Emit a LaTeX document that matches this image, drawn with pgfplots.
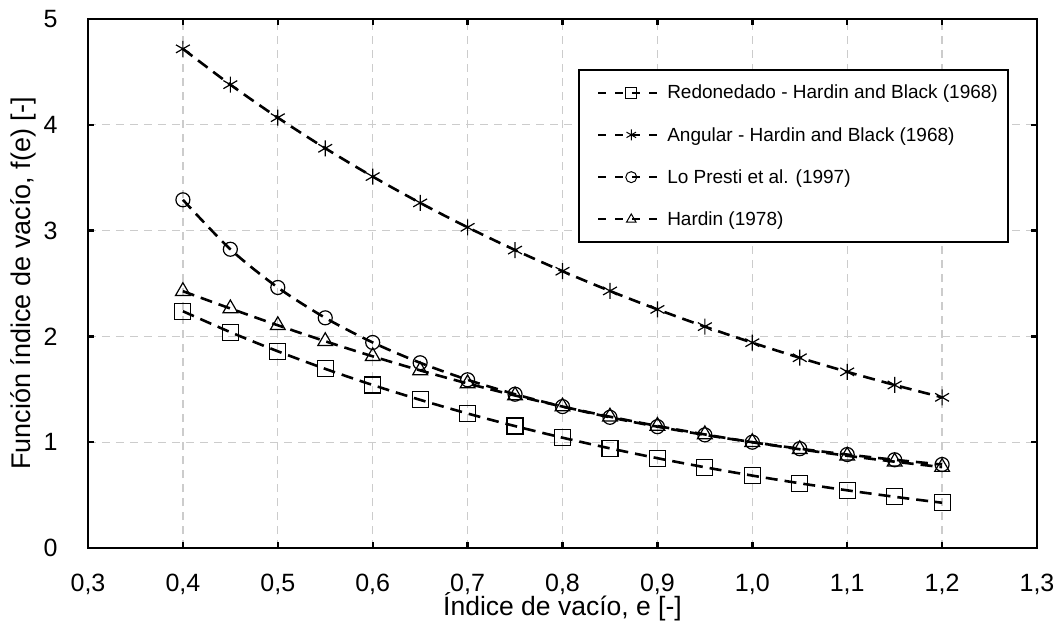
\documentclass[border=0pt]{standalone}
\usepackage{pgfplots}
\pgfplotsset{compat=1.18}
\usepackage{fontspec}
\setmainfont{Liberation Sans}
\begin{document}
\begin{tikzpicture}
\begin{axis}[
  scale only axis, width=949pt, height=529pt,
  xmin=0.3, xmax=1.3, ymin=0, ymax=5,
  xtick={0.3,0.4,...,1.31}, ytick={0,1,2,3,4,5},
  /pgf/number format/assume math mode=true,
  xticklabel style={font=\fontsize{25}{29}\selectfont, yshift=-23pt, /pgf/number format/.cd, use comma, fixed, fixed zerofill, precision=1},
  yticklabel style={font=\fontsize{25}{29}\selectfont, xshift=-27pt, /pgf/number format/.cd, fixed, precision=0},
  xlabel={Índice de vacío, e [-]},
  ylabel={Función índice de vacío, f(e) [-]},
  xlabel style={font=\fontsize{26.5}{30}\selectfont, at={(0.5,0)}, anchor=center, yshift=-59pt},
  ylabel style={font=\fontsize{27}{30}\selectfont, at={(0,0.5)}, anchor=center, yshift=65pt},
  axis line style={line width=2.4pt},
  tick align=inside, major tick length=6pt,
  every tick/.style={line width=2.4pt, black},
  grid=major, grid style={gray!40, dashed, line width=1.3pt, dash pattern=on 8pt off 6pt},
  legend style={at={(0.5163,0.9055)}, anchor=north west, draw=black, line width=2pt,
    font=\fontsize{19}{22}\selectfont, row sep=23pt, inner xsep=8pt, inner ysep=13pt,
    cells={anchor=west}},
  legend image code/.code={\path (0pt,0pt); \draw[line width=2pt, dash pattern=on 8pt off 9pt, mark size=5.5pt, mark repeat=2, mark phase=2, mark options={solid, line width=1pt}] plot coordinates {(10pt,0pt) (43pt,0pt) (76pt,0pt)};},
]
\pgfplotsset{every axis plot/.append style={black, line width=2.6pt, dash pattern=on 12pt off 7pt, smooth,
    mark options={solid, line width=1.2pt, draw=black}}}
\addplot[mark=square, mark size=8pt] coordinates {
(0.40,2.2378)(0.45,2.0403)(0.50,1.8593)(0.55,1.6932)(0.60,1.5406)(0.65,1.4003)(0.70,1.2711)(0.75,1.1522)(0.80,1.0427)(0.85,0.9418)(0.90,0.8489)(0.95,0.7633)(1.00,0.6845)(1.05,0.6119)(1.10,0.5452)(1.15,0.4839)(1.20,0.4277)};
\addlegendentry{Redonedado - Hardin and Black (1968)}
\addplot[mark=asterisk, mark size=8pt] coordinates {
(0.40,4.7178)(0.45,4.3796)(0.50,4.0673)(0.55,3.7783)(0.60,3.5106)(0.65,3.2621)(0.70,3.0311)(0.75,2.8162)(0.80,2.6161)(0.85,2.4294)(0.90,2.2552)(0.95,2.0925)(1.00,1.9405)(1.05,1.7982)(1.10,1.6652)(1.15,1.5407)(1.20,1.4240)};
\addlegendentry{Angular - Hardin and Black (1968)}
\addplot[mark=o, mark size=7pt] coordinates {
(0.40,3.2910)(0.45,2.8237)(0.50,2.4623)(0.55,2.1755)(0.60,1.9427)(0.65,1.7507)(0.70,1.5899)(0.75,1.4535)(0.80,1.3366)(0.85,1.2352)(0.90,1.1468)(0.95,1.0690)(1.00,1.0000)(1.05,0.9385)(1.10,0.8835)(1.15,0.8339)(1.20,0.7890)};
\addlegendentry{Lo Presti et al. (1997)}
\addplot[mark=triangle, mark size=8.5pt] coordinates {
(0.40,2.4272)(0.45,2.2637)(0.50,2.1053)(0.55,1.9541)(0.60,1.8116)(0.65,1.6786)(0.70,1.5552)(0.75,1.4414)(0.80,1.3369)(0.85,1.2411)(0.90,1.1534)(0.95,1.0733)(1.00,1.0000)(1.05,0.9331)(1.10,0.8718)(1.15,0.8158)(1.20,0.7645)};
\addlegendentry{Hardin (1978)}
\end{axis}
\useasboundingbox ([shift={(-88pt,-75pt)}]current axis.south west) rectangle ([shift={(23pt,19pt)}]current axis.north east);
\end{tikzpicture}
\end{document}
